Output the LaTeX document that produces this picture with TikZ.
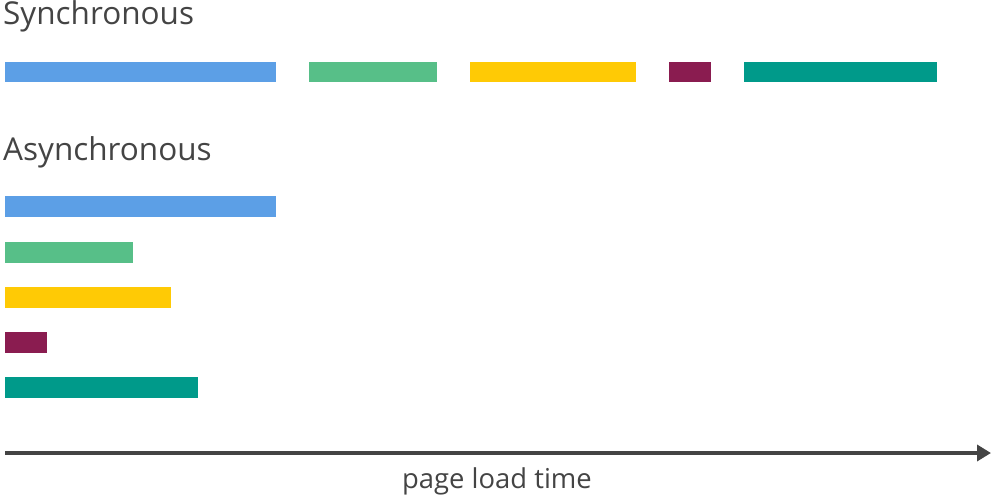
\documentclass[tikz,border=0pt]{standalone}
\usepackage{fontspec}
\setmainfont{Open Sans}
\usetikzlibrary{arrows.meta}
\definecolor{barblue}{HTML}{5C9FE6}
\definecolor{bargreen}{HTML}{57BF88}
\definecolor{baryellow}{HTML}{FFCA05}
\definecolor{barpurple}{HTML}{8A1C50}
\definecolor{barteal}{HTML}{009A8A}
\definecolor{textgray}{HTML}{444444}
\tikzset{
  title/.style={anchor=base west, inner sep=0pt, text=textgray, font=\fontsize{31.5}{38}\selectfont},
  axislabel/.style={anchor=base, inner sep=0pt, text=textgray, font=\fontsize{27.4}{33}\selectfont},
  timeaxis/.style={draw=textgray, line width=4pt, -{Triangle[length=14pt,width=16pt]}}
}
\begin{document}
\begin{tikzpicture}[x=1pt,y=-1pt]
        \useasboundingbox (0,0) rectangle (991,497);

        \node[title] (sync) at (3, 25){Synchronous};
        \node[title] (async) at (3, 161){Asynchronous};

        \fill[barblue](5,62) rectangle (276,82);
        \fill[bargreen](309,62) rectangle (437,82);
        \fill[baryellow](470,62) rectangle (636,82);
        \fill[barpurple](669,62) rectangle (711,82);
        \fill[barteal](744,62) rectangle (937,82);

        \fill[barblue](5,196) rectangle (276,217);
        \fill[bargreen](5,242) rectangle (133,263);
        \fill[baryellow](5,287) rectangle (171,308);
        \fill[barpurple](5,332) rectangle (47,353);
        \fill[barteal](5,377) rectangle (198,398);

        \coordinate (start) at (5, 453);
        \coordinate (end) at (991, 453);
        \draw[timeaxis] (start) -- (end);
        \node[axislabel] (time) at (497, 488){page load time};
    \end{tikzpicture}
\end{document}
